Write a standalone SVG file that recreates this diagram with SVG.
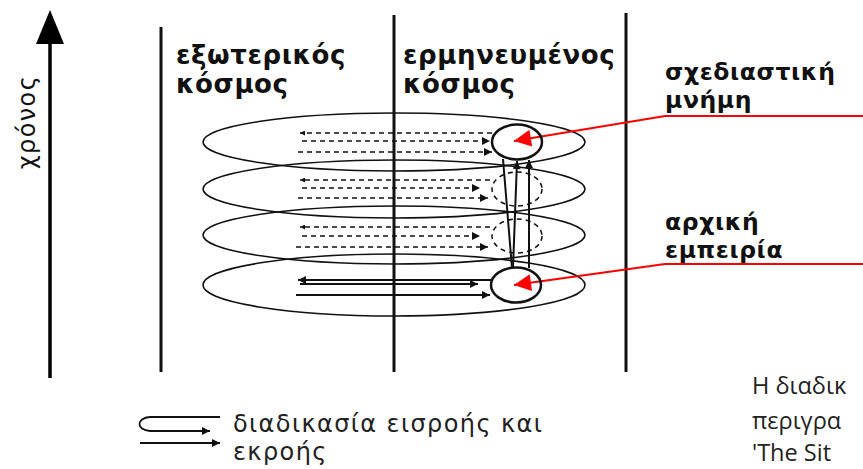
<svg xmlns="http://www.w3.org/2000/svg" width="863" height="469" viewBox="0 0 863 469">
<style>
.ax{stroke:#000;stroke-width:3.5;fill:none}
.dv{stroke:#111;stroke-width:3;fill:none}
.lay{fill:none;stroke:#111;stroke-width:1.6}
.h{font-family:"DejaVu Sans",sans-serif;font-weight:bold;font-size:26px;letter-spacing:0.6px;fill:#111}
.hr{font-family:"DejaVu Sans",sans-serif;font-weight:bold;font-size:23.5px;letter-spacing:0.6px;fill:#111}
.t{font-family:"DejaVu Sans",sans-serif;font-size:24px;letter-spacing:1.4px;fill:#222}
.c{font-family:"Open Sans",sans-serif;font-size:23.5px;fill:#222}
.dash{stroke:#111;stroke-width:1.5;stroke-dasharray:5 4;fill:none}
.sol{stroke:#111;stroke-width:2;fill:none}
.circ{fill:none;stroke:#111;stroke-width:2.5}
.dcirc{fill:none;stroke:#111;stroke-width:1.5;stroke-dasharray:5 4}
.red{stroke:#f00;stroke-width:2.2;fill:none}
</style>
<defs>
<marker id="ahl" viewBox="0 0 10 10" refX="10" refY="5" markerWidth="14" markerHeight="8" markerUnits="userSpaceOnUse" orient="auto">
<path d="M0,0 L10,5 L0,10 z" fill="#111"/>
</marker>
<marker id="ahs" viewBox="0 0 10 10" refX="10" refY="5" markerWidth="7" markerHeight="5" markerUnits="userSpaceOnUse" orient="auto">
<path d="M0,0 L10,5 L0,10 z" fill="#111"/>
</marker>
<marker id="ahr" viewBox="0 0 10 10" refX="10" refY="5" markerWidth="24" markerHeight="17" markerUnits="userSpaceOnUse" orient="auto">
<path d="M0,0 L10,5 L0,10 z" fill="#f00"/>
</marker>
</defs>

<g id="time-axis">
<line class="ax" x1="50" y1="378" x2="50" y2="40"/>
<path d="M50,10 L64,44 L36,44 z" fill="#000"/>
<text class="t" transform="translate(35,122) rotate(-90)" text-anchor="middle" style="fill:#111">χρόνος</text>
</g>

<g id="dividers">
<line class="dv" x1="161" y1="27" x2="161" y2="372"/>
<line class="dv" x1="394" y1="15" x2="394" y2="372"/>
<line class="dv" x1="626" y1="13" x2="626" y2="372"/>
</g>

<g id="heading-external">
<text class="h" x="176" y="64">εξωτερικός</text>
<text class="h" x="176" y="93">κόσμος</text>
</g>
<g id="heading-interpreted">
<text class="h" x="403" y="64">ερμηνευμένος</text>
<text class="h" x="403" y="93">κόσμος</text>
</g>

<g id="layers">
<ellipse class="lay" cx="394" cy="142" rx="191" ry="29"/>
<ellipse class="lay" cx="394" cy="189" rx="191" ry="29"/>
<ellipse class="lay" cx="394" cy="235" rx="191" ry="29"/>
<ellipse class="lay" cx="394" cy="285" rx="191" ry="31"/>
</g>

<g id="connectors">
<line class="dash" x1="492" y1="133" x2="300" y2="133" marker-end="url(#ahs)"/>
<line class="dash" x1="302" y1="141" x2="490" y2="141" marker-end="url(#ahl)"/>
<line class="dash" x1="298" y1="152" x2="492" y2="152" marker-end="url(#ahl)"/>
<line class="dash" x1="490" y1="180" x2="300" y2="180" marker-end="url(#ahs)"/>
<line class="dash" x1="302" y1="188" x2="480" y2="188" marker-end="url(#ahl)"/>
<line class="dash" x1="298" y1="198" x2="488" y2="198" marker-end="url(#ahl)"/>
<line class="dash" x1="490" y1="227" x2="300" y2="227" marker-end="url(#ahs)"/>
<line class="dash" x1="302" y1="236" x2="480" y2="236" marker-end="url(#ahl)"/>
<line class="dash" x1="296" y1="247" x2="488" y2="247" marker-end="url(#ahl)"/>
<line class="sol" x1="492" y1="280" x2="298" y2="280" marker-end="url(#ahl)"/>
<line class="sol" x1="300" y1="284" x2="478" y2="284" marker-end="url(#ahl)"/>
<line class="sol" x1="296" y1="295" x2="490" y2="295" marker-end="url(#ahl)"/>
<line class="sol" x1="503" y1="159" x2="512" y2="268"/>
<line class="sol" x1="513" y1="268" x2="517" y2="161" marker-end="url(#ahl)"/>
<line class="sol" x1="529" y1="268" x2="529" y2="160" marker-end="url(#ahl)"/>
<polyline class="red" points="863,116 665,116 514,141" marker-end="url(#ahr)"/>
<polyline class="red" points="863,264 665,264 514,285" marker-end="url(#ahr)"/>
</g>

<g id="ghost-2"><ellipse class="dcirc" cx="517" cy="189" rx="25" ry="17"/></g>
<g id="ghost-3"><ellipse class="dcirc" cx="517" cy="236" rx="25" ry="17"/></g>

<g id="design-memory-node">
<ellipse class="circ" cx="517" cy="142" rx="25" ry="17.5"/>
</g>
<g id="initial-experience-node">
<ellipse class="circ" cx="516" cy="285" rx="25" ry="17.5"/>
</g>

<g id="label-design-memory">
<text class="hr" x="665" y="80">σχεδιαστική</text>
<text class="hr" x="665" y="108">μνήμη</text>
</g>
<g id="label-initial-experience">
<text class="hr" x="665" y="230">αρχική</text>
<text class="hr" x="665" y="258">εμπειρία</text>
</g>

<g id="legend">
<path class="sol" d="M220,417 L150,417 C136,418 136,430 150,431 L210,431" marker-end="url(#ahl)" style="stroke-width:1.8"/>
<line class="sol" x1="140" y1="443" x2="220" y2="443" marker-end="url(#ahl)" style="stroke-width:1.8"/>
<text class="t" x="233" y="432">διαδικασία εισροής και</text>
<text class="t" x="233" y="460">εκροής</text>
</g>

<g id="caption">
<text class="c" x="752" y="394">Η διαδικ</text>
<text class="c" x="752" y="429">περιγρα</text>
<text class="c" x="752" y="461">'The Sit</text>
</g>
</svg>
